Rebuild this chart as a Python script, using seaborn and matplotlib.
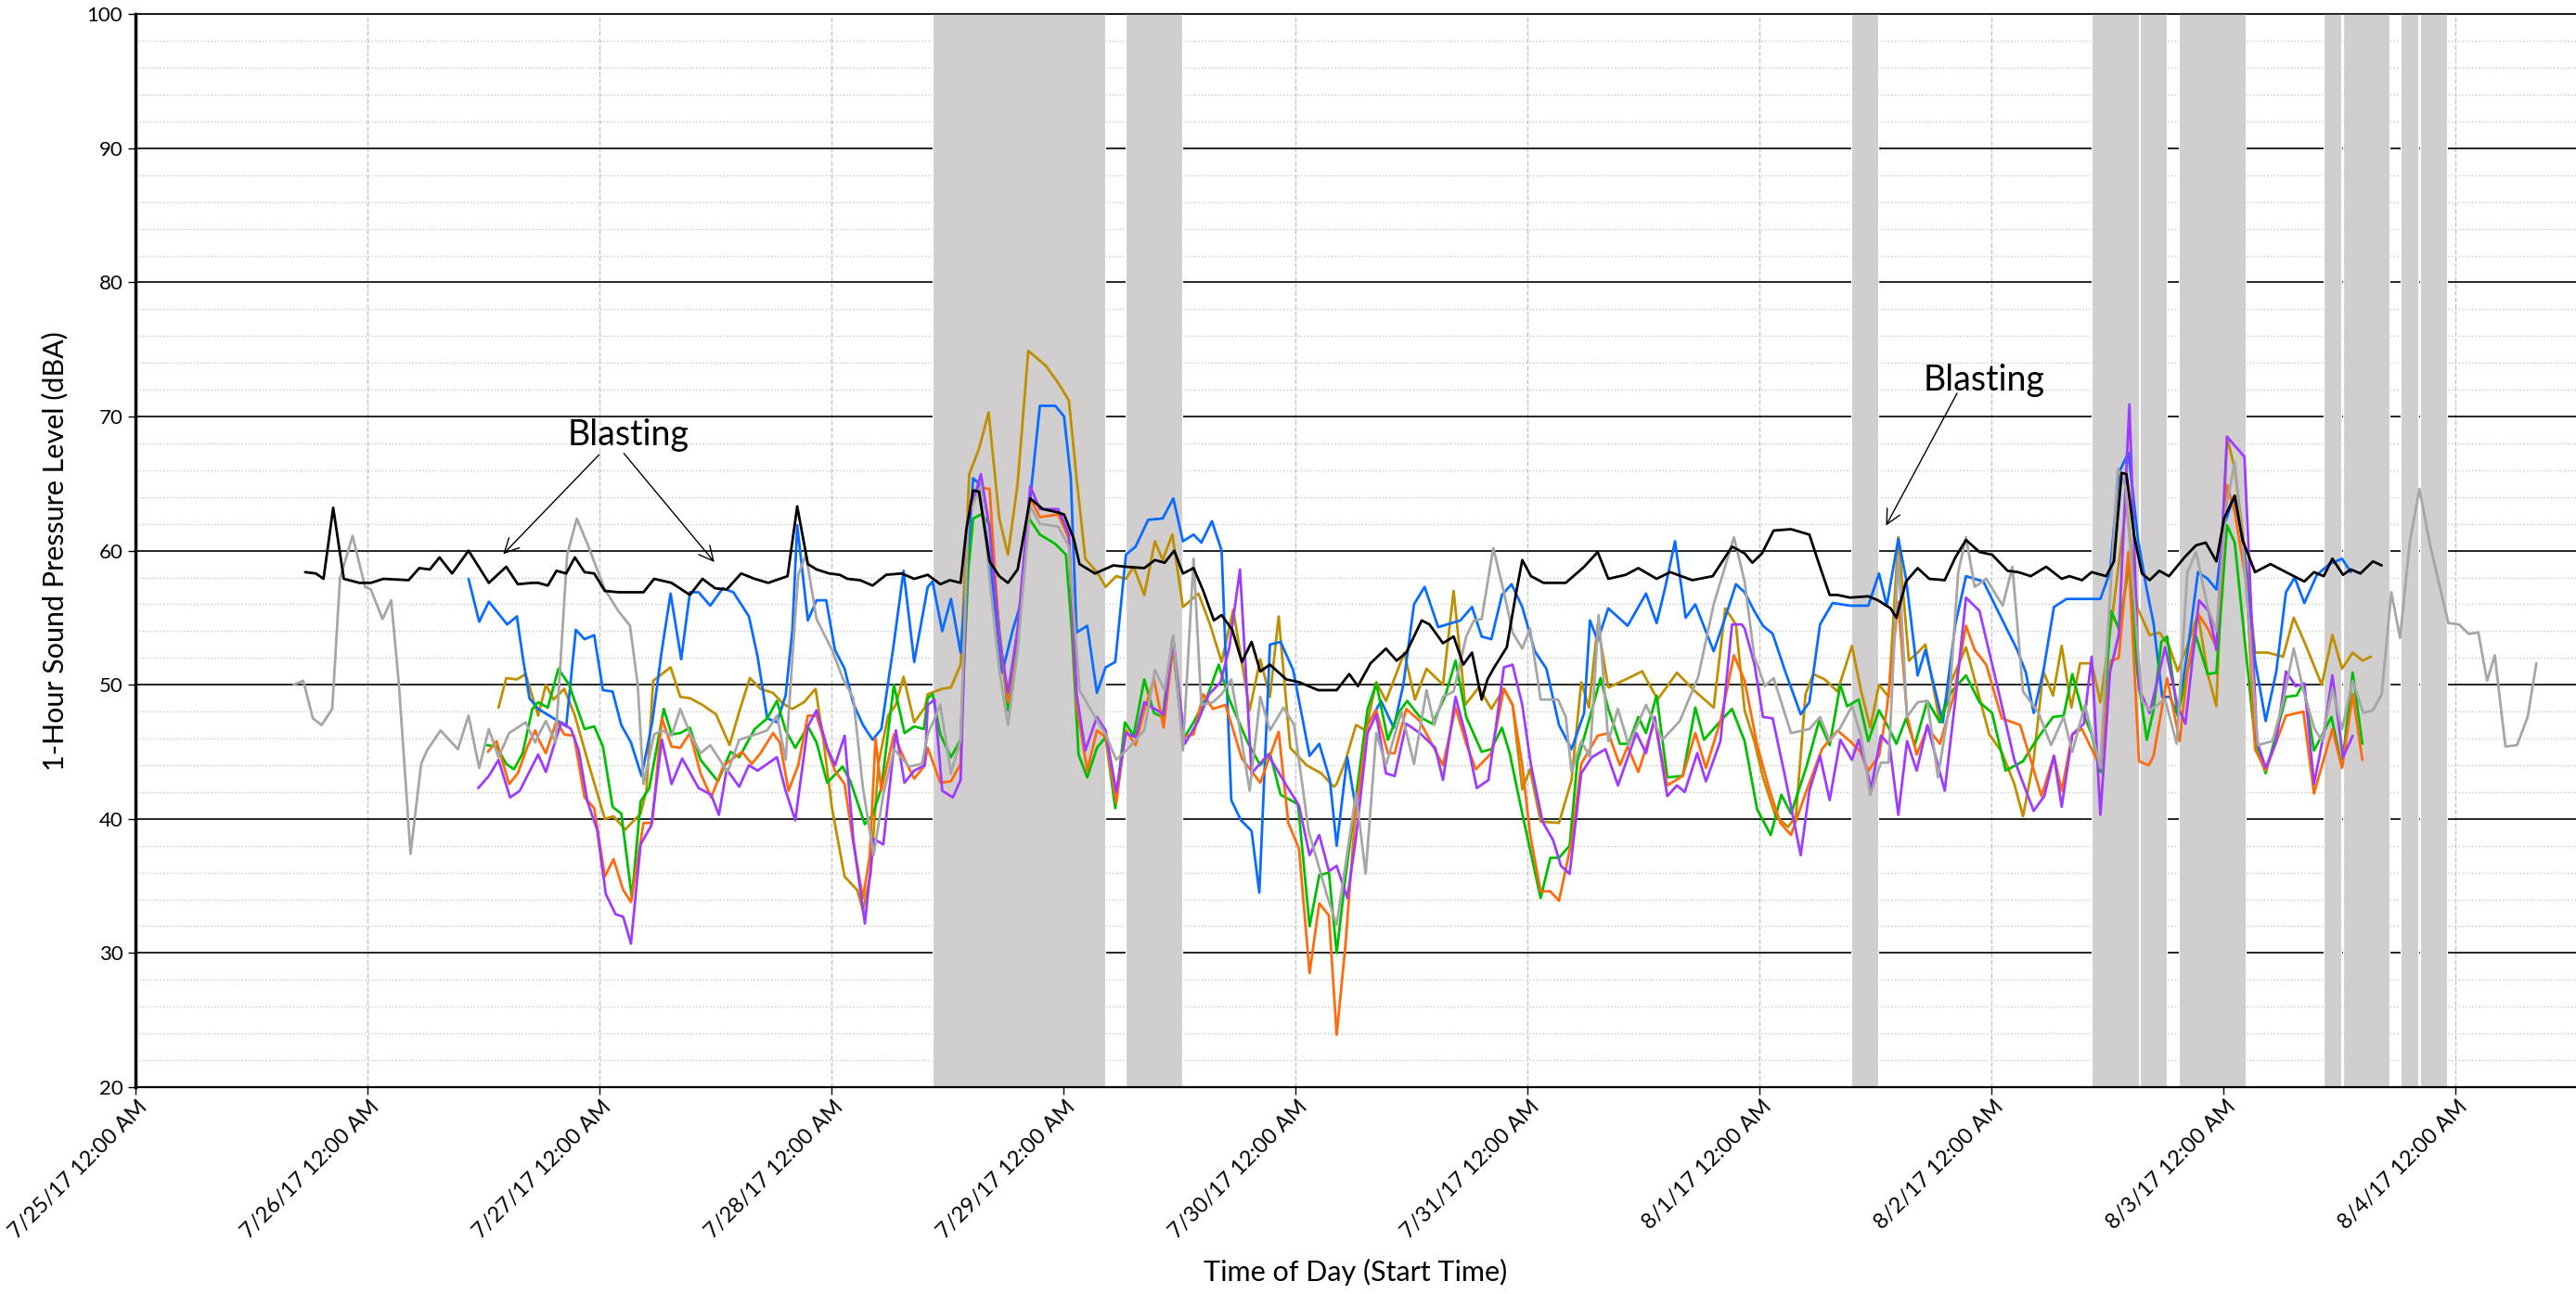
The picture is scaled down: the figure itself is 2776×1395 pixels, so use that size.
import pandas as pd
import numpy as np
import matplotlib
matplotlib.use("Agg")
import matplotlib.pyplot as plt
import matplotlib.transforms as mtransforms
from matplotlib.ticker import MultipleLocator
import seaborn as sns

# === Data: hours after 7/25/17 12:00 AM, 1-hour level in dBA ===
black_t = [17.6, 18.7, 19.5, 20.5, 21.6, 23.2, 24.4, 25.7, 28.3, 29.4, 30.5, 31.5, 32.8, 34.5, 36.6, 38.4, 39.6, 41.1,
           41.7, 42.7, 43.6, 44.6, 45.5, 46.5, 47.5, 48.6, 50.0, 51.3, 52.6, 53.7, 55.5, 57.4, 58.7, 60.0, 61.2, 62.7,
           64.1, 65.5, 66.7, 67.5, 68.5, 69.6, 70.5, 71.8, 72.9, 73.7, 75.0, 76.3, 77.7, 79.3, 80.6,
           82.0, 83.3, 84.3, 85.4, 86.0, 86.7, 87.3, 88.4, 89.4, 90.3, 91.3, 92.6, 93.9, 95.2, 96.1, 97.1, 97.7, 99.3,
           101.2, 102.5, 104.4, 105.5, 106.5, 107.5, 108.4, 109.5, 110.5, 111.6, 112.4, 113.5, 114.5, 115.5, 116.4,
           117.4, 119.1, 120.4, 122.4,
           124.3, 125.6, 126.5, 127.8, 129.4, 130.5, 131.5, 133.1, 133.9, 135.3, 136.4, 137.4, 138.3, 139.3, 139.9,
           140.6, 141.9, 142.8, 143.5, 144.4, 145.7, 148.0, 149.9, 151.3, 152.4, 154.2, 155.5, 157.4, 158.8, 161.1,
           163.2, 165.2,
           166.5, 167.3, 168.3, 169.5, 171.3, 173.2, 174.2, 175.3, 176.1, 177.4, 179.3, 180.3, 181.6, 182.2, 183.2,
           184.4, 185.6, 187.2, 188.3, 189.4, 190.8, 192.1, 193.7, 194.8, 196.1, 197.7, 199.3, 200.1, 201.4, 202.4,
           203.9, 204.7, 205.5, 206.0, 206.8, 207.6, 208.4,
           209.4, 210.4, 212.0, 213.2, 214.2, 215.3, 216.1, 217.2, 218.0, 219.3, 220.9, 222.5, 224.4, 225.4, 226.4,
           227.3, 228.4, 229.2, 230.2, 231.5, 232.4]
black_v = [58.4, 58.3, 57.9, 63.2, 57.9, 57.6, 57.6, 57.9, 57.8, 58.7, 58.6, 59.5, 58.3, 60.0, 57.6, 58.8, 57.5, 57.6,
           57.6, 57.4, 58.5, 58.3, 59.5, 58.4, 58.3, 57.0, 56.9, 56.9, 56.9, 57.9, 57.6, 56.7, 57.9, 57.2, 57.1, 58.3,
           57.9, 57.6, 57.9, 58.1, 63.3, 59.0, 58.6, 58.3, 58.2, 57.9, 57.8, 57.4, 58.2, 58.3, 57.9,
           58.2, 57.5, 57.8, 57.6, 61.6, 64.5, 64.4, 59.2, 58.1, 57.6, 58.6, 63.9, 63.1, 62.9, 62.7, 60.9, 59.0, 58.3,
           58.9, 58.8, 58.7, 59.3, 59.1, 60.0, 58.3, 58.7, 57.0, 54.8, 55.2, 54.1, 51.7, 53.2, 51.0,
           51.5, 50.4, 50.2, 49.6,
           49.6, 50.8, 49.9, 51.6, 52.7, 51.8, 52.4, 54.8, 54.5, 53.1, 53.6, 51.5, 52.4, 48.9, 50.4,
           51.3, 52.8, 56.6, 59.3, 58.1, 57.6, 57.6, 58.8, 59.9, 57.9, 58.2, 58.7, 57.9, 58.4, 57.8,
           58.1, 60.3,
           59.8, 59.1, 59.8, 61.5, 61.6, 61.2, 59.0, 56.7, 56.7, 56.5, 56.6, 56.3, 55.7, 55.0, 57.7,
           58.7, 57.9, 57.8, 59.5, 60.8, 59.9, 59.7, 58.5, 58.4, 58.1, 58.8, 57.9, 58.1, 57.8, 58.4,
           58.1, 59.2, 65.8, 65.7, 61.1, 58.3, 57.8,
           58.5, 58.1, 59.5, 60.4, 60.6, 59.2, 62.4, 64.1, 60.8, 58.4, 59.0, 58.4, 57.7, 58.4, 58.1,
           59.4, 58.2, 58.6, 58.3, 59.2, 58.9]

gray_t = [16.4, 17.4, 18.4, 19.3, 20.4, 21.2, 22.5, 23.8, 24.4, 25.6, 26.5, 27.3, 28.5, 29.6, 30.2, 31.6, 33.4, 34.5,
          35.6, 36.6, 37.6, 38.7, 40.4, 41.4,
          41.7, 42.5, 43.5, 44.7, 45.7, 46.8, 48.6, 50.0, 51.2, 52.0, 52.6, 53.7, 54.5, 55.5, 56.4, 57.4, 58.5, 59.5,
          61.3, 62.5, 63.8, 65.4, 66.4, 67.3, 68.0, 68.6, 69.4, 70.5, 72.1, 73.2, 74.3, 75.3, 76.4, 77.4, 78.5, 80.1,
          81.4,
          82.0, 83.3, 84.4, 85.4, 86.2, 87.5, 88.4, 89.4, 90.3, 91.3, 92.6, 93.6, 95.5, 96.6, 97.7, 99.3, 100.4, 101.5,
          102.8, 104.4, 105.5, 106.5, 107.4, 108.4, 109.5, 110.3, 111.5, 112.4, 113.4, 114.3, 115.3, 116.4, 117.4,
          118.8, 119.9, 121.4, 123.3,
          124.3, 125.2, 126.3, 127.3, 128.4, 129.4, 131.0, 132.3, 133.6, 134.4, 135.3, 136.4, 137.7, 138.5, 139.3,
          140.5, 141.6, 142.5, 143.5, 144.3, 145.4, 147.2, 148.0, 148.6, 149.6, 150.5, 151.4, 152.4, 153.4, 154.5,
          156.3, 158.0, 159.8, 161.7, 163.3, 165.4,
          166.5, 167.5, 168.6, 169.5, 171.3, 173.2, 174.3, 175.3, 176.4, 177.6, 178.5, 179.5, 180.6, 181.4, 182.4,
          183.3, 184.4, 185.4, 186.5, 187.6, 188.6, 189.4, 190.3, 191.5, 193.2, 194.2, 195.3, 196.9, 198.2, 199.5,
          200.4, 201.7, 203.3, 203.9, 205.1, 205.9, 206.8, 207.6, 208.4,
          210.0, 211.2, 212.3, 213.2, 214.4, 215.3, 216.3, 217.2, 218.2, 219.6, 221.1, 222.2, 223.3, 224.3, 225.4,
          226.2, 227.3, 228.3, 229.4, 230.5, 231.5, 232.4, 233.4, 234.3, 235.3, 236.3, 237.5, 239.3, 240.4, 241.4,
          242.4, 243.3, 244.1, 245.2, 246.4, 247.5, 248.4]
gray_v = [50.0, 50.3, 47.5, 47.0, 48.2, 57.9, 61.1, 57.3, 57.1, 54.9, 56.3, 50.0, 37.4, 44.1, 45.1, 46.6, 45.2, 47.7,
          43.8, 46.7, 44.6, 46.4, 47.2, 45.7,
          46.2, 47.3, 45.7, 59.7, 62.4, 60.5, 57.1, 55.5, 54.4, 50.0, 42.6, 46.3, 46.6, 46.2, 48.2, 46.4, 44.9, 45.5,
          43.5, 45.9, 46.2, 46.6, 47.7, 44.4, 52.0, 58.2, 59.7, 54.9, 52.6, 50.5, 49.0, 42.3, 37.3, 41.8, 45.2, 43.9,
          44.1,
          46.3, 48.5, 43.4, 45.9, 62.7, 64.8, 57.9, 51.1, 47.0, 52.6, 63.3, 62.0, 61.8, 60.3, 49.6, 47.6, 46.3, 44.4,
          45.3, 46.6, 51.1, 49.6, 53.7, 45.1, 59.4, 48.5, 48.7, 49.3, 50.4, 46.6, 42.1, 49.1, 46.6,
          48.3, 47.0, 39.1, 34.3,
          32.1, 36.5, 41.9, 35.9, 46.4, 44.0, 48.0, 44.1, 49.6, 47.0, 49.1, 49.5, 53.6, 54.8, 54.9,
          60.2, 56.9, 53.9, 52.7, 54.2, 48.9, 48.9, 47.6, 43.5, 45.8, 44.6, 55.2, 45.8, 48.2, 45.5,
          48.5, 45.9, 47.3, 50.6, 56.0, 61.0,
          57.7, 52.1, 49.9, 50.5, 46.4, 46.7, 47.6, 45.8, 46.8, 48.4, 46.3, 41.8, 44.2, 44.2, 59.6,
          47.6, 48.7, 48.8, 43.1, 48.1, 58.4, 61.0, 57.3, 57.9, 55.9, 58.8, 49.5, 47.9, 45.5, 47.6,
          45.0, 48.5, 43.8, 51.8, 66.1, 64.8, 56.3, 48.8, 48.1,
          48.9, 45.6, 58.4, 59.9, 55.8, 54.0, 63.2, 66.6, 59.0, 45.5, 45.8, 48.7, 52.7, 49.6, 46.8,
          45.8, 49.7, 46.7, 50.3, 47.9, 48.1, 49.3, 56.9, 53.5, 60.6, 64.6, 60.1, 54.6, 54.5, 53.8,
          53.9, 50.3, 52.2, 45.4, 45.5, 47.6, 51.6]

blue_t = [34.5, 35.6, 36.6, 38.5, 39.5, 40.1, 40.8,
          41.7, 43.3, 44.6, 45.6, 46.5, 47.5, 48.4, 49.4, 50.3, 51.3, 52.4, 53.5, 54.5, 55.4, 56.5, 57.4, 58.3, 59.5,
          60.8, 61.9, 63.5, 64.4, 65.4, 66.4, 67.3, 68.0, 68.5, 69.6, 70.5, 71.5, 72.4, 73.4, 74.3, 75.3, 76.3, 77.2,
          78.5, 79.5, 80.6,
          82.0, 82.5, 83.5, 84.4, 85.4, 86.0, 86.7, 87.3, 88.4, 89.7, 90.8, 91.6, 92.6, 93.6, 95.2, 96.1, 96.8, 97.4,
          98.5, 99.5, 100.4, 101.4, 102.5, 103.5, 104.8, 106.3, 107.4, 108.4, 109.5, 110.3, 111.4, 112.4, 113.4,
          114.4, 115.5, 116.3, 117.4, 118.5, 119.8, 121.5, 122.5, 123.6,
          124.3, 125.4, 126.3, 127.5, 128.9, 130.2, 131.2, 132.3, 133.4, 134.8, 137.1, 138.3, 139.3, 140.3, 141.4,
          142.4, 143.5, 144.8, 146.0, 147.3, 148.6, 149.9, 150.5, 151.3, 152.4, 154.4, 156.3, 157.4, 158.3, 159.3,
          160.4, 161.4, 163.3, 164.4, 165.6,
          166.5, 167.5, 168.4, 169.4, 170.7, 172.3, 173.2, 174.3, 175.6, 177.4, 179.3, 180.4, 181.2, 182.4, 183.2,
          184.4, 185.2, 187.0, 188.3, 189.4, 191.2, 192.7, 194.7, 195.6, 196.4, 197.4, 198.5, 199.8, 201.7, 203.3,
          204.3, 205.2, 206.2, 207.2, 208.1,
          208.8, 209.7, 210.5, 211.3, 212.3, 213.4, 214.4, 215.3, 216.1, 217.1, 218.0, 219.3, 220.4, 221.5, 222.5,
          223.4, 224.4, 225.7, 227.0, 228.3, 229.2]
blue_v = [57.9, 54.7, 56.2, 54.5, 55.1, 52.1, 49.0,
          48.2, 47.5, 46.9, 54.1, 53.4, 53.7, 49.6, 49.5, 47.0, 45.7, 43.2, 47.2, 52.6, 56.8, 51.9, 56.9, 56.9, 55.9,
          57.2, 56.9, 55.1, 52.1, 47.5, 47.2, 49.2, 54.1, 61.9, 54.8, 56.3, 56.3, 52.6, 51.2, 48.6, 47.0, 45.9, 46.7,
          53.1, 58.5, 51.7,
          57.3, 57.7, 54.0, 56.4, 52.4, 57.9, 65.4, 65.0, 59.4, 50.9, 54.1, 56.0, 63.9, 70.8, 70.8, 70.0, 65.4, 53.9,
          54.4, 49.4, 51.3, 51.7, 59.7, 60.3, 62.3, 62.4, 63.9, 60.7, 61.2, 60.6, 62.2, 60.0, 41.4,
          39.9, 39.1, 34.5, 53.0, 53.2, 51.1, 44.7, 45.6, 42.9,
          38.0, 44.6, 40.7, 47.0, 48.8, 46.8, 50.0, 56.0, 57.3, 54.3, 54.8, 55.8, 53.6, 53.4, 56.7,
          57.5, 55.8, 52.5, 51.2, 47.0, 45.2, 47.9, 54.8, 53.3, 55.7, 54.4, 56.8, 54.6, 57.3, 60.7,
          55.0, 56.0, 52.5, 54.8, 57.5,
          56.9, 55.5, 54.4, 53.8, 51.0, 47.8, 48.7, 54.5, 56.1, 55.9, 55.9, 58.3, 55.9, 60.9, 57.9,
          50.7, 52.6, 47.2, 54.5, 58.1, 57.7, 55.5, 52.6, 50.9, 47.9, 51.0, 55.8, 56.4, 56.4, 56.4,
          58.4, 65.8, 67.3, 60.8, 57.1,
          54.6, 49.1, 49.1, 47.7, 52.4, 58.4, 57.9, 57.1, 61.9, 64.0, 61.1, 51.8, 47.3, 51.0, 56.9,
          58.0, 56.1, 58.2, 59.0, 59.4, 58.4]

gold_t = [37.6, 38.4, 39.5, 40.4,
          41.7, 42.5, 43.3, 44.4, 45.5, 46.8, 48.6, 49.5, 50.7, 52.3, 52.9, 53.6, 54.5, 55.4, 56.4, 57.4, 58.7, 60.1,
          61.5, 62.5, 63.6, 64.7, 66.0, 67.0, 68.0, 69.2, 70.4, 71.2, 72.1, 73.4, 74.7, 75.3, 76.1, 76.9, 77.9, 78.7,
          79.5, 80.6, 81.7,
          82.0, 83.5, 84.4, 85.4, 86.3, 87.3, 88.3, 89.4, 90.3, 91.3, 92.4, 94.2, 95.5, 96.6, 97.4, 98.3, 99.5, 100.4,
          101.5, 102.5, 103.3, 104.4, 105.5, 106.3, 107.3, 108.4, 110.0, 111.2, 112.4, 113.6, 115.3, 116.4, 117.4,
          118.3, 119.5, 121.2, 122.7, 124.0,
          124.3, 125.2, 126.3, 127.3, 128.4, 129.4, 131.3, 132.4, 133.6, 135.3, 136.4, 137.6, 139.0, 140.3, 141.6,
          142.5, 143.5, 144.3, 145.4, 147.3, 148.6, 149.6, 150.4, 151.3, 152.4, 154.2, 155.9, 157.5, 159.5, 161.4,
          163.3, 164.5, 165.6,
          166.5, 167.5, 168.4, 169.7, 171.0, 171.8, 172.8, 173.6, 174.8, 176.1, 177.6, 178.5, 179.5, 180.4, 181.4,
          182.4, 183.5, 184.4, 185.2, 186.7, 187.9, 189.4, 190.7, 191.8, 193.1, 194.4, 195.3, 196.4, 197.4, 198.4,
          199.3, 200.3, 201.2, 202.4, 203.3, 204.6, 206.0, 207.1, 208.4,
          209.4, 210.4, 211.3, 212.3, 213.4, 214.4, 215.3, 216.0, 216.4, 217.2, 218.4, 219.3, 220.6, 222.2, 223.3,
          224.4, 226.2, 227.3, 228.3, 229.4, 230.4, 231.3]
gold_v = [48.3, 50.5, 50.4, 50.8,
          47.7, 50.0, 48.9, 49.7, 47.7, 44.4, 40.0, 40.2, 39.2, 40.4, 42.1, 50.3, 50.8, 51.3, 49.1, 49.0, 48.5, 47.8,
          45.5, 48.0, 50.5, 49.7, 49.4, 48.6, 48.2, 48.7, 49.7, 45.9, 40.8, 35.7, 34.7, 33.2, 35.9, 44.1, 47.7, 48.5,
          50.6, 47.2, 48.3,
          49.3, 49.7, 49.8, 51.5, 65.7, 67.6, 70.3, 62.4, 59.7, 65.0, 74.9, 73.8, 72.5, 71.2, 65.4, 59.4, 58.4, 57.3,
          58.1, 57.9, 58.8, 56.7, 60.7, 59.3, 61.2, 55.8, 56.8, 54.5, 51.7, 55.6, 48.1, 51.9, 49.1,
          55.1, 45.3, 44.0, 43.4, 42.4,
          42.6, 44.3, 47.0, 46.6, 50.2, 48.8, 52.4, 48.9, 51.2, 50.0, 57.0, 48.5, 49.8, 48.2, 49.7,
          48.5, 42.2, 43.7, 39.8, 39.7, 42.9, 50.2, 48.3, 54.5, 49.8, 50.4, 51.0, 48.9, 50.9, 49.5,
          48.3, 55.7, 54.5,
          48.1, 45.8, 43.1, 40.2, 39.4, 40.2, 49.3, 50.8, 50.4, 49.5, 52.9, 49.7, 46.8, 50.0, 49.1,
          61.0, 51.8, 52.4, 53.0, 47.2, 50.3, 52.8, 49.3, 46.3, 45.0, 42.6, 40.2, 44.4, 51.0, 49.2,
          52.9, 48.3, 51.6, 51.6, 48.7, 55.5, 63.6, 55.8, 53.7,
          53.9, 52.9, 51.0, 52.9, 55.3, 50.8, 48.4, 61.6, 68.5, 66.1, 59.0, 52.4, 52.4, 52.1, 55.0,
          53.2, 50.0, 53.7, 51.2, 52.4, 51.8, 52.1]

green_t = [36.4, 37.4, 38.4, 39.2, 40.1, 41.1,
           41.7, 42.7, 43.8, 44.9, 46.5, 47.5, 48.4, 49.4, 50.3, 51.4, 52.3, 53.2, 54.7, 55.5, 56.4, 57.4, 58.5, 60.3,
           61.6, 62.5, 64.1, 65.4, 66.4, 67.3, 68.3, 69.6, 70.5, 71.6, 73.2, 74.0, 75.5, 76.3, 77.2, 78.5, 79.6, 80.6,
           81.6,
           82.0, 82.5, 83.3, 84.4, 85.4, 86.2, 86.7, 87.5, 88.4, 89.4, 90.3, 91.3, 92.4, 93.6, 95.2, 96.3, 96.9, 97.6,
           98.5, 99.5, 100.4, 101.4, 102.4, 103.3, 104.4, 105.4, 106.3, 107.3, 108.4, 109.5, 111.0, 112.1, 113.2,
           115.1, 116.4, 117.4, 118.5, 120.3, 121.5, 122.5, 123.5,
           124.3, 125.2, 126.3, 127.5, 128.4, 129.6, 130.7, 131.6, 132.9, 134.2, 135.5, 136.6, 137.7, 139.3, 140.3,
           141.4, 142.2, 143.5, 145.4, 146.4, 147.3, 148.4, 149.2, 150.5, 151.6, 152.4, 153.6, 154.5, 155.5, 156.3,
           157.4, 158.5, 160.1, 161.4, 162.3, 164.0, 165.2,
           166.5, 167.8, 169.2, 170.3, 171.3, 172.9, 174.2, 175.3, 176.4, 177.1, 178.3, 179.3, 180.4, 181.4, 182.2,
           183.2, 184.1, 185.4, 186.7, 187.9, 189.4, 190.8, 192.1, 193.5, 195.3, 196.6, 198.4, 199.5, 200.4, 201.4,
           202.4, 203.3, 204.4, 205.2, 206.3, 207.1, 208.1,
           208.8, 209.6, 210.2, 211.3, 212.3, 213.2, 214.4, 215.3, 216.4, 217.2, 219.3, 220.4, 222.5, 223.6, 224.3,
           225.4, 227.2, 228.3, 229.4, 230.4]
green_v = [45.5, 45.4, 44.1, 43.7, 44.9, 48.2,
           48.7, 48.3, 51.2, 50.0, 46.7, 46.9, 45.4, 40.9, 40.4, 34.1, 41.3, 42.3, 48.2, 46.3, 46.4, 46.8, 44.4, 42.8,
           45.0, 44.6, 46.7, 47.5, 48.8, 46.6, 45.3, 46.9, 45.7, 42.7, 43.9, 42.8, 39.6, 40.3, 42.3, 50.0, 46.4, 46.9,
           46.7,
           49.0, 49.3, 46.3, 44.6, 45.9, 58.6, 62.4, 62.7, 62.0, 54.1, 48.1, 53.4, 62.5, 61.2, 60.5, 59.7, 54.1, 44.8,
           43.1, 45.3, 46.1, 40.8, 47.2, 46.2, 50.4, 47.9, 47.6, 53.4, 45.9, 47.2, 49.3, 51.5, 48.9,
           45.7, 44.0, 44.9, 41.8, 41.1, 32.0, 35.8, 36.0,
           30.0, 35.6, 41.6, 48.2, 50.1, 45.9, 47.9, 48.8, 47.6, 47.1, 49.1, 51.8, 47.6, 45.0, 45.2,
           46.8, 44.9, 40.4, 34.1, 37.1, 37.1, 38.0, 44.3, 47.6, 50.5, 48.2, 45.6, 45.6, 47.6, 46.4,
           49.2, 43.1, 43.2, 48.3, 45.9, 47.3, 48.2,
           45.8, 40.7, 38.8, 41.8, 40.4, 43.9, 47.3, 45.5, 50.0, 48.4, 48.9, 45.8, 48.1, 46.8, 45.6,
           47.5, 45.5, 48.8, 47.2, 49.5, 50.7, 48.7, 47.9, 43.6, 44.3, 45.8, 47.6, 47.7, 50.8, 48.1,
           46.3, 43.5, 55.5, 54.2, 59.0, 51.0, 45.9,
           48.1, 53.2, 53.6, 47.7, 51.0, 53.6, 50.8, 50.9, 61.9, 60.6, 45.8, 43.4, 49.1, 49.2, 50.1,
           45.1, 47.6, 43.9, 50.9, 45.6]

orange_t = [36.5, 37.4, 38.7, 39.6, 40.6, 41.4,
            41.7, 42.5, 43.6, 44.4, 45.4, 46.5, 47.5, 48.6, 49.5, 50.5, 51.3, 52.6, 53.5, 54.5, 55.5, 56.4, 57.4, 58.5,
            59.6, 60.9, 62.8, 63.8, 64.7, 66.0, 66.7, 67.6, 68.6, 69.6, 70.5, 71.5, 72.4, 73.4, 74.3, 75.3, 76.0, 76.6,
            77.2, 78.5, 79.5, 80.6, 81.6,
            82.0, 83.3, 84.4, 85.4, 86.2, 87.5, 88.4, 89.4, 90.3, 91.3, 92.6, 93.6, 95.5, 96.6, 97.4, 98.5, 99.5, 100.4,
            101.5, 102.5, 103.5, 104.4, 105.4, 106.4, 107.4, 108.4, 109.5, 110.5, 111.5, 112.8, 114.5, 116.4, 118.3,
            119.3, 120.4, 121.5, 122.5, 123.5,
            124.3, 125.2, 126.2, 127.5, 128.4, 129.6, 130.3, 131.5, 132.9, 135.3, 136.6, 137.7, 138.7, 140.3, 141.6,
            142.5, 143.5, 144.3, 145.4, 146.4, 147.3, 148.6, 149.6, 151.3, 152.4, 153.6, 154.4, 155.5, 157.2, 158.5,
            160.1, 161.4, 162.5, 164.0, 165.4,
            166.5, 167.8, 169.1, 170.2, 171.3, 172.9, 174.5, 176.1, 177.4, 178.5, 179.3, 180.4, 181.2, 182.4, 183.3,
            184.3, 185.4, 186.7, 188.1, 189.4, 190.3, 191.5, 193.1, 195.0, 196.1, 197.2, 198.5, 199.3, 200.4, 201.4,
            202.4, 203.3, 204.4, 205.2, 206.2, 207.3, 208.3,
            208.8, 210.2, 211.5, 212.3, 213.4, 214.4, 215.3, 216.4, 217.2, 218.4, 219.3, 220.4, 222.5, 224.3, 225.4,
            227.3, 228.3, 229.4, 230.4]
orange_v = [45.0, 45.8, 42.6, 43.4, 45.4, 46.6,
            46.0, 44.9, 47.3, 46.3, 46.2, 41.6, 40.8, 35.7, 37.0, 34.7, 33.8, 39.7, 39.7, 47.5, 45.4, 45.3, 46.4, 43.4,
            41.6, 44.0, 45.0, 44.1, 44.9, 46.4, 45.7, 42.1, 44.0, 47.7, 47.7, 45.4, 43.6, 42.6, 38.2, 34.1, 37.2, 46.0,
            42.1, 46.3, 44.6, 43.0, 43.9,
            45.3, 42.7, 42.8, 44.1, 63.1, 64.7, 64.6, 53.6, 48.7, 54.1, 63.9, 62.5, 62.7, 60.9, 48.5, 43.6, 46.6, 46.1,
            41.2, 46.6, 45.5, 48.1, 50.4, 46.8, 53.0, 46.1, 46.3, 49.3, 48.2, 48.5, 44.5, 42.7, 46.5,
            39.7, 37.8, 28.5, 33.7, 32.8,
            23.9, 30.5, 40.1, 47.0, 48.1, 44.9, 44.9, 48.2, 47.3, 44.0, 48.3, 45.6, 43.7, 44.9, 49.7,
            48.5, 44.0, 38.9, 34.6, 34.6, 33.9, 38.3, 44.1, 46.2, 46.4, 44.0, 45.4, 43.5, 47.3, 42.5,
            43.2, 46.4, 43.8, 47.3, 52.2,
            50.3, 45.5, 42.1, 39.7, 38.8, 42.1, 45.2, 46.6, 45.8, 45.0, 43.6, 44.7, 48.1, 56.2, 47.7,
            44.8, 46.8, 45.6, 49.1, 54.4, 52.6, 51.5, 47.5, 47.0, 44.4, 41.7, 44.7, 42.1, 46.3, 46.7,
            45.2, 43.9, 51.8, 52.0, 59.9, 44.3, 44.0,
            44.7, 50.5, 45.8, 51.0, 55.3, 54.2, 52.8, 64.9, 62.9, 57.6, 45.2, 43.6, 47.7, 48.0, 41.9,
            46.7, 43.8, 49.3, 44.4]

purple_t = [35.5, 36.6, 37.6, 38.8, 39.8,
            41.7, 42.5, 43.3, 44.1, 45.1, 45.9, 46.8, 47.8, 48.7, 49.7, 50.5, 51.3, 52.3, 53.4, 54.5, 55.5, 56.6, 58.3,
            59.6, 60.4, 61.2, 62.5, 63.5, 64.4, 66.4, 67.3, 68.3, 69.6, 70.5, 71.6, 72.4, 73.4, 74.3, 75.5, 76.4, 77.4,
            78.7, 79.6, 80.6, 81.7,
            82.0, 82.7, 83.5, 84.6, 85.4, 86.2, 87.5, 88.4, 89.4, 90.3, 91.3, 92.6, 93.6, 95.5, 96.6, 97.4, 98.3, 99.5,
            100.4, 101.5, 102.5, 103.5, 104.4, 105.7, 106.4, 107.4, 108.6, 109.9, 111.1, 112.3, 113.2, 114.3, 115.5,
            117.2, 119.1, 120.4, 121.5, 122.5, 123.5,
            124.3, 125.4, 126.3, 127.5, 128.4, 129.4, 130.3, 131.5, 132.9, 134.5, 135.3, 136.6, 137.7, 138.8, 140.0,
            140.8, 141.6, 142.5, 143.5, 144.4, 145.6, 146.7, 147.5, 148.4, 149.6, 150.7, 152.1, 153.4, 155.3, 156.3,
            157.2, 158.5, 159.5, 160.3, 161.6, 162.5, 164.0, 165.2, 166.2,
            166.5, 167.5, 168.4, 169.4, 170.7, 172.3, 173.2, 174.3, 175.3, 176.4, 177.6, 178.3, 179.6, 180.6, 181.5,
            182.4, 183.3, 184.3, 185.4, 187.2, 188.3, 189.4, 190.8, 192.7, 194.4, 196.4, 197.5, 198.5, 199.3, 200.4,
            201.6, 202.4, 203.3, 204.3, 205.2, 206.3, 207.3, 208.4,
            210.0, 211.3, 212.1, 213.5, 214.5, 215.3, 216.4, 218.2, 218.7, 219.5, 220.4, 221.5, 222.5, 223.5, 224.4,
            225.4, 226.4, 227.3, 228.4, 229.4]
purple_v = [42.3, 43.2, 44.4, 41.6, 42.1,
            44.8, 43.5, 45.4, 47.2, 46.7, 45.1, 41.3, 39.2, 34.4, 32.9, 32.7, 30.7, 38.1, 39.5, 45.9, 42.6, 44.5, 42.3,
            41.8, 40.3, 43.7, 42.4, 44.0, 43.6, 44.6, 42.1, 39.9, 46.9, 48.1, 45.3, 44.0, 46.2, 38.5, 32.2, 38.5, 38.1,
            46.6, 42.7, 43.6, 44.0,
            48.5, 48.9, 42.1, 41.6, 42.9, 62.4, 65.7, 61.6, 53.6, 49.4, 54.1, 64.8, 63.1, 63.1, 61.2, 49.3, 45.1, 47.6,
            46.6, 42.0, 46.4, 46.1, 48.7, 48.1, 47.8, 53.4, 45.6, 47.2, 49.3, 50.2, 52.8, 58.6, 43.4,
            44.8, 42.5, 41.0, 37.3, 38.8, 36.1,
            36.5, 34.1, 38.6, 46.4, 47.8, 43.4, 43.2, 47.1, 46.4, 45.3, 42.9, 49.1, 46.1, 42.3, 42.9,
            47.0, 51.3, 51.5, 48.5, 44.0, 39.8, 38.4, 36.5, 35.9, 43.4, 44.6, 45.2, 42.5, 46.4, 44.9,
            47.6, 41.7, 42.5, 42.0, 44.9, 42.8, 45.8, 54.5, 54.5,
            54.2, 51.6, 47.6, 47.5, 43.1, 37.3, 42.1, 44.7, 41.4, 45.9, 44.4, 45.9, 42.3, 46.2, 45.5,
            40.3, 45.8, 43.6, 47.0, 42.1, 48.9, 56.5, 55.5, 49.7, 44.4, 40.6, 41.7, 44.7, 40.9, 46.3,
            47.1, 52.1, 40.3, 51.0, 53.7, 70.9, 49.7, 47.9,
            52.8, 48.4, 47.1, 56.3, 55.5, 52.6, 68.5, 67.0, 59.0, 45.8, 43.8, 45.8, 51.0, 49.9, 50.1,
            42.6, 46.3, 50.7, 44.6, 46.2]

# shaded periods (hours)
shade_start = [82.5, 102.5, 177.5, 202.4, 207.4, 211.4, 226.4, 228.4, 234.4, 236.4]
shade_end = [100.4, 108.3, 180.3, 207.3, 210.2, 218.3, 228.2, 233.2, 236.2, 239.2]

day_ticks = [0, 24, 48, 72, 96, 120, 144, 168, 192, 216, 240]
day_labels = ["7/25/17 12:00 AM", "7/26/17 12:00 AM", "7/27/17 12:00 AM", "7/28/17 12:00 AM",
              "7/29/17 12:00 AM", "7/30/17 12:00 AM", "7/31/17 12:00 AM", "8/1/17 12:00 AM",
              "8/2/17 12:00 AM", "8/3/17 12:00 AM", "8/4/17 12:00 AM"]

# === Long-form frame for seaborn ===
series = [
    ("gold", gold_t, gold_v, "#BF8F00"),
    ("blue", blue_t, blue_v, "#0A6CFF"),
    ("green", green_t, green_v, "#00BF00"),
    ("orange", orange_t, orange_v, "#FF6A0D"),
    ("purple", purple_t, purple_v, "#9E3BFF"),
    ("gray", gray_t, gray_v, "#A6A6A6"),
    ("black", black_t, black_v, "#000000"),
]
frames = [pd.DataFrame({"hour": t, "dBA": v, "site": name}) for name, t, v, _ in series]
df = pd.concat(frames, ignore_index=True)
palette = {name: c for name, _, _, c in series}
order = [name for name, _, _, _ in series]

sns.set_style("white")
plt.rcParams["font.family"] = ["Lato", "DejaVu Sans"]
plt.rcParams["text.color"] = "black"
plt.rcParams["axes.labelcolor"] = "black"
plt.rcParams["xtick.color"] = "black"
plt.rcParams["ytick.color"] = "black"

W, H = 2776, 1395
fig = plt.figure(figsize=(W / 100, H / 100), dpi=100)
ax = fig.add_axes([145.5 / W, 1 - 1172 / H, 1 - 145.5 / W, (1172 - 15.3) / H])

for a, b in zip(shade_start, shade_end):
    ax.axvspan(a, b, facecolor="#D0CECE", edgecolor="white", lw=0.8, zorder=1)

sns.lineplot(data=df, x="hour", y="dBA", hue="site", hue_order=order, palette=palette,
             estimator=None, legend=False, linewidth=2.0, ax=ax, zorder=3)

# === Axes / grid ===
ax.set_xlim(0, 252.5)
ax.set_ylim(20, 100)
ax.set_axisbelow(True)
ax.yaxis.set_major_locator(MultipleLocator(10))
ax.yaxis.set_minor_locator(MultipleLocator(2))
ax.grid(False)
ax.yaxis.grid(True, which="major", color="black", lw=1.2)
ax.yaxis.grid(True, which="minor", color="#C3CBBB", ls=":", lw=1.0)
ax.set_xticks(day_ticks)
ax.set_xticklabels(day_labels, rotation=45, ha="right", va="center", rotation_mode="anchor")
ax.xaxis.grid(True, which="major", color="#C4C4C4", ls="--", lw=1.0)

ax.tick_params(axis="x", which="major", direction="out", length=6, width=1.0,
               labelsize=17, pad=7, bottom=True)
ax.tick_params(axis="y", which="major", direction="out", length=6, width=1.0,
               labelsize=16, left=True)
ax.tick_params(axis="y", which="minor", length=0)

# nudge the slanted date labels right, as in the reference
shift = mtransforms.ScaledTranslation(10 / 100, 0, fig.dpi_scale_trans)
for lab in ax.get_xticklabels():
    lab.set_transform(lab.get_transform() + shift)

ax.spines["left"].set_color("black")
ax.spines["left"].set_linewidth(2.5)
ax.spines["bottom"].set_color("black")
ax.spines["bottom"].set_linewidth(1.6)
ax.spines["top"].set_color("black")
ax.spines["top"].set_linewidth(1.2)
ax.spines["right"].set_visible(False)

ax.set_xlabel("Time of Day (Start Time)", fontsize=22, va="center")
ax.set_ylabel("1-Hour Sound Pressure Level (dBA)", fontsize=22, va="center")
ax.xaxis.set_label_coords(0.5, (1172 - 1371) / (1172 - 15.3))
ax.yaxis.set_label_coords((59 - 145.5) / (W - 145.5), 0.5)

# === Blasting annotations ===
arrow = dict(arrowstyle="->", color="black", lw=1.0, mutation_scale=28)
ax.text(51.0, 68.6, "Blasting", ha="center", va="center", fontsize=27, zorder=5)
ax.annotate("", xy=(37.9, 59.6), xytext=(48.2, 67.3), arrowprops=arrow, zorder=5)
ax.annotate("", xy=(60.1, 59.0), xytext=(50.4, 67.4), arrowprops=arrow, zorder=5)
ax.text(191.3, 72.7, "Blasting", ha="center", va="center", fontsize=27, zorder=5)
ax.annotate("", xy=(181.0, 61.7), xytext=(188.6, 71.9), arrowprops=arrow, zorder=5)

fig.savefig("out.png", dpi=100)
